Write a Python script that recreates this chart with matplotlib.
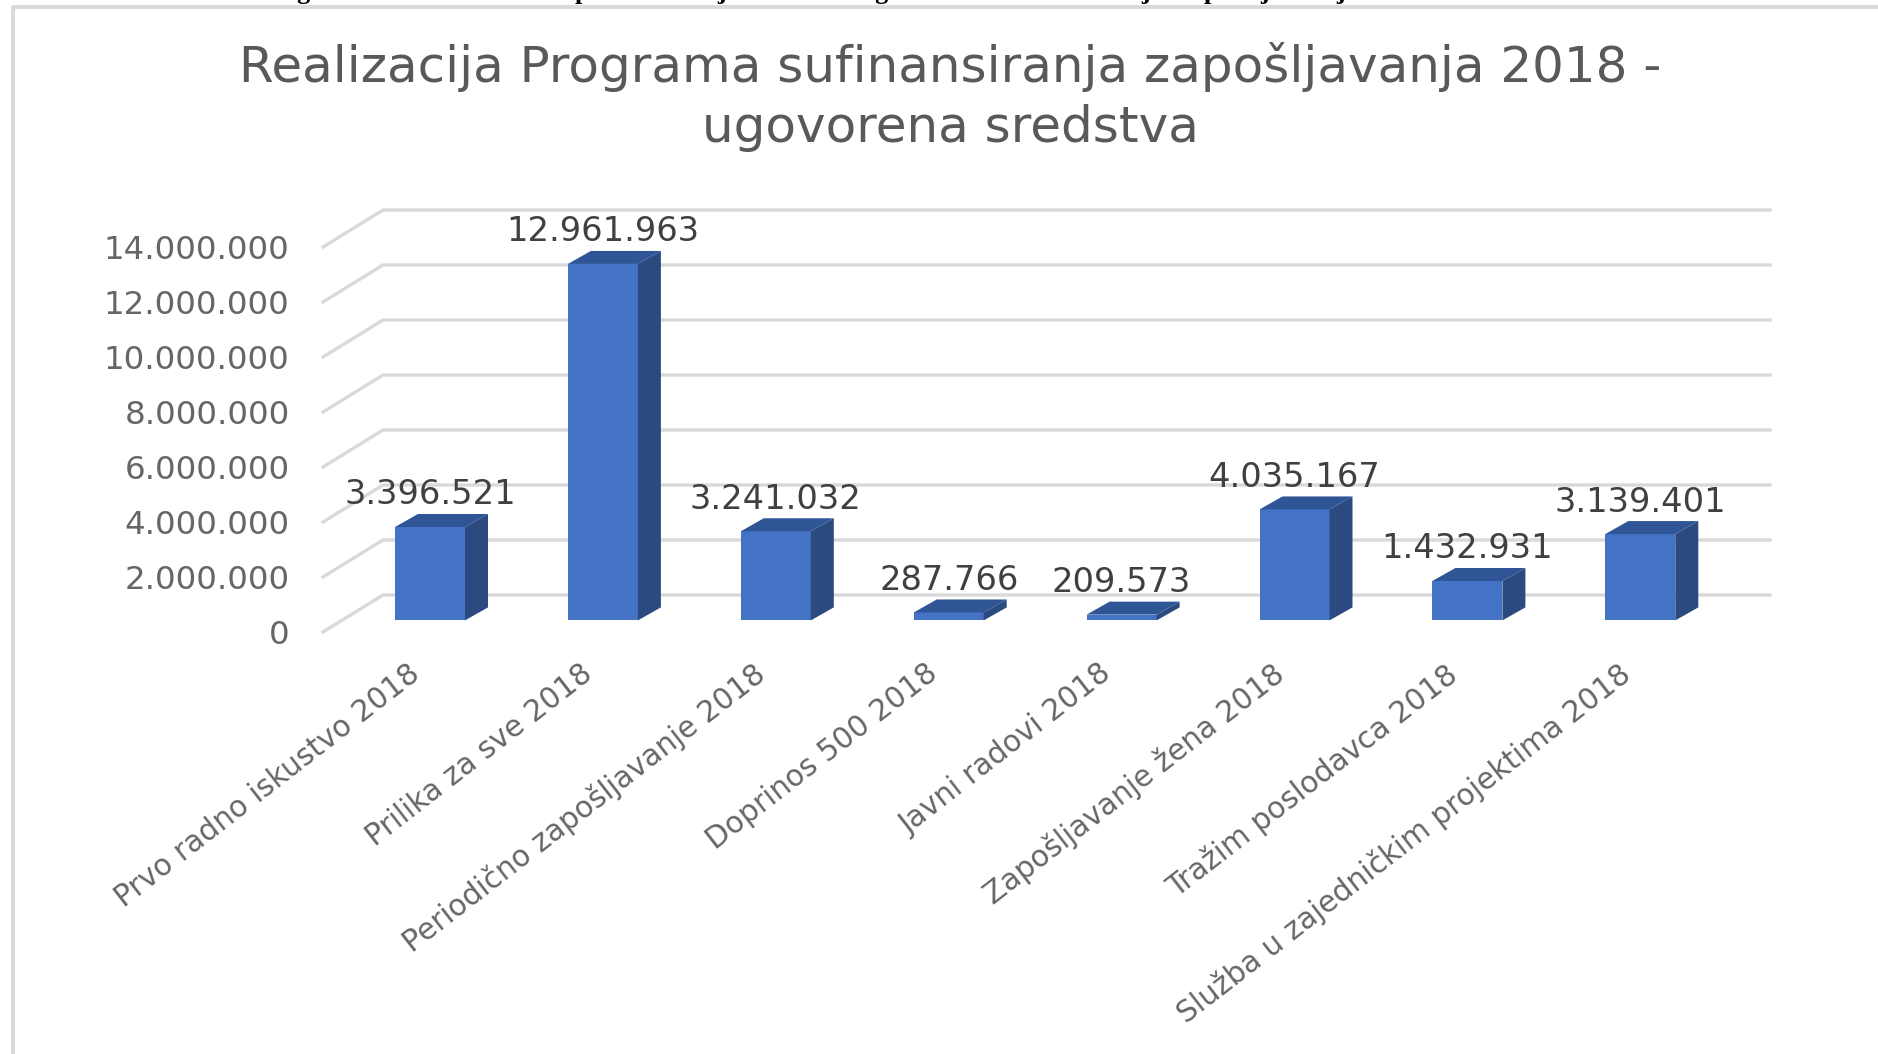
import matplotlib
matplotlib.use('Agg')
import matplotlib.pyplot as plt
from matplotlib.lines import Line2D
from matplotlib.patches import Polygon
from matplotlib.transforms import offset_copy

kategorije = ['Prvo radno iskustvo 2018', 'Prilika za sve 2018', 'Periodično zapošljavanje 2018',
              'Doprinos 500 2018', 'Javni radovi 2018', 'Zapošljavanje žena 2018',
              'Tražim poslodavca 2018', 'Služba u zajedničkim projektima 2018']
vrijednosti = [3396521, 12961963, 3241032, 287766, 209573, 4035167, 1432931, 3139401]
oznake = ['3.396.521', '12.961.963', '3.241.032', '287.766', '209.573', '4.035.167', '1.432.931', '3.139.401']
y_vrijednosti = [0, 2000000, 4000000, 6000000, 8000000, 10000000, 12000000, 14000000]
y_oznake = ['0', '2.000.000', '4.000.000', '6.000.000', '8.000.000', '10.000.000', '12.000.000', '14.000.000']
naslov = 'Realizacija Programa sufinansiranja zapošljavanja 2018 -\nugovorena sredstva'
# ostaci reda teksta odsjecenog na vrhu slike
odsjecena_slova = ['g', 'p', 'j', 'g', 'j', 'p', 'j', 'j']
odsjecena_x = [303, 582, 722, 881, 1146, 1211, 1265, 1341]

W, H = 1878, 1054
plt.rcParams['font.family'] = ['DejaVu Sans']

fig = plt.figure(figsize=(W / 100, H / 100), dpi=100)

for slovo, x in zip(odsjecena_slova, odsjecena_x):
    fig.text(x / W, 1 + 1 / H, slovo, ha='center', va='baseline', fontsize=19,
             family='Liberation Serif', weight='bold', color='black')

# okvir grafikona
fig.add_artist(Line2D([13 / W, 13 / W, 1], [0, 1 - 6.5 / H, 1 - 6.5 / H], color='#D9D9D9', lw=2.8))

# osa je ravan prednje strane stubova
ax = fig.add_axes([323 / W, 1 - 632 / H, (1770 - 323) / W, (632 - 209.6) / H])
px_x = 172.9
px_y = 27.5 / 1e6
ax.set_xlim((323 - 430) / px_x, (1770 - 430) / px_x)
ax.set_ylim(-11.6 / px_y, (620.4 - 209.6) / px_y)
ax.patch.set_alpha(0)
for s in ax.spines.values():
    s.set_visible(False)

x0, x1 = ax.get_xlim()
y0 = ax.get_ylim()[0]
back_dx = 60 / px_x
back_dy = 37 / px_y
for v in y_vrijednosti:
    ax.plot([x0, x0 + back_dx, x1], [y0 + v, y0 + v + back_dy, y0 + v + back_dy],
            color='#D9D9D9', lw=2.4, clip_on=False, zorder=1)

# stubovi
sirina = 70 / px_x
dx = 23 / px_x
dy = 13 / px_y
for i, v in enumerate(vrijednosti):
    l, r = i - sirina / 2, i + sirina / 2
    ax.bar(i, v, width=sirina, color='#4472C4', lw=0, zorder=3)
    ax.add_patch(Polygon([(r, 0), (r + dx, dy), (r + dx, v + dy), (r, v)], color='#2A4A80', lw=0, zorder=3))
    ax.add_patch(Polygon([(l, v), (l + dx, v + dy), (r + dx, v + dy), (r, v)], color='#2F5597', lw=0, zorder=3))
    ax.text(i, v + 32 / px_y, oznake[i], ha='center', va='center', fontsize=24.2, color='#404040', zorder=4)

ax.set_yticks([y0 + v for v in y_vrijednosti])
ax.set_yticklabels(y_oznake, fontsize=23.3, color='#666666')
ax.set_xticks(range(len(kategorije)))
ax.set_xticklabels(kategorije, rotation=37.8, ha='right', rotation_mode='anchor', fontsize=21.3, color='#666666')
ax.tick_params(axis='y', length=0, pad=24)
ax.tick_params(axis='x', length=0, pad=20)
for lab in ax.get_xticklabels():
    lab.set_transform(offset_copy(lab.get_transform(), fig=fig, x=-23, y=1, units='dots'))

fig.text(950 / W, 1 - 97 / H, naslov, ha='center', va='center', fontsize=36, color='#595959', linespacing=1.3)

plt.savefig('out.png', dpi=100)
